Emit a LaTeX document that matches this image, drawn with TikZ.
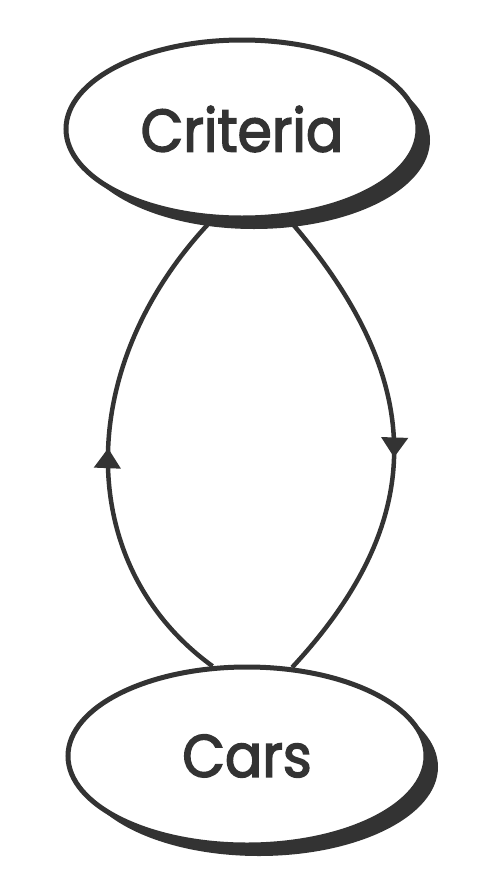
\documentclass[tikz,border=0pt]{standalone}
\usepackage{fontspec}
\setmainfont{Poppins}[FakeStretch=0.92, FakeBold=2.5]
\usetikzlibrary{shapes.geometric,shadows,arrows.meta,decorations.markings}
\definecolor{ink}{HTML}{333333}
\tikzset{
  oval/.style={ellipse, draw=ink, line width=5pt, fill=white, inner sep=0pt,
    text=ink, font=\fontsize{60}{60}\selectfont,
    drop shadow={shadow xshift=12pt, shadow yshift=-11pt, opacity=1, fill=ink}},
  link/.style={draw=ink, line width=4.5pt},
  upmark/.style={postaction={decorate}, decoration={markings,
    mark=at position #1 with {\arrow{Triangle[width=26pt,length=20pt]}}}}
}
\begin{document}
\begin{tikzpicture}[x=1pt,y=-1pt]
\useasboundingbox[fill=white] (0,0) rectangle (503,879);
\node[oval, minimum width=352pt, minimum height=178pt] (crit) at (242,129) {Criteria};
\node[oval, minimum width=358pt, minimum height=178pt] (cars) at (247,756) {Cars};
\draw[link, upmark=0.495] (cars.111) .. controls (73,565) and (73,365) .. (crit.252);
\draw[link, upmark=0.53] (crit.297) .. controls (429,380) and (429,520) .. (cars.63);
\end{tikzpicture}
\end{document}
